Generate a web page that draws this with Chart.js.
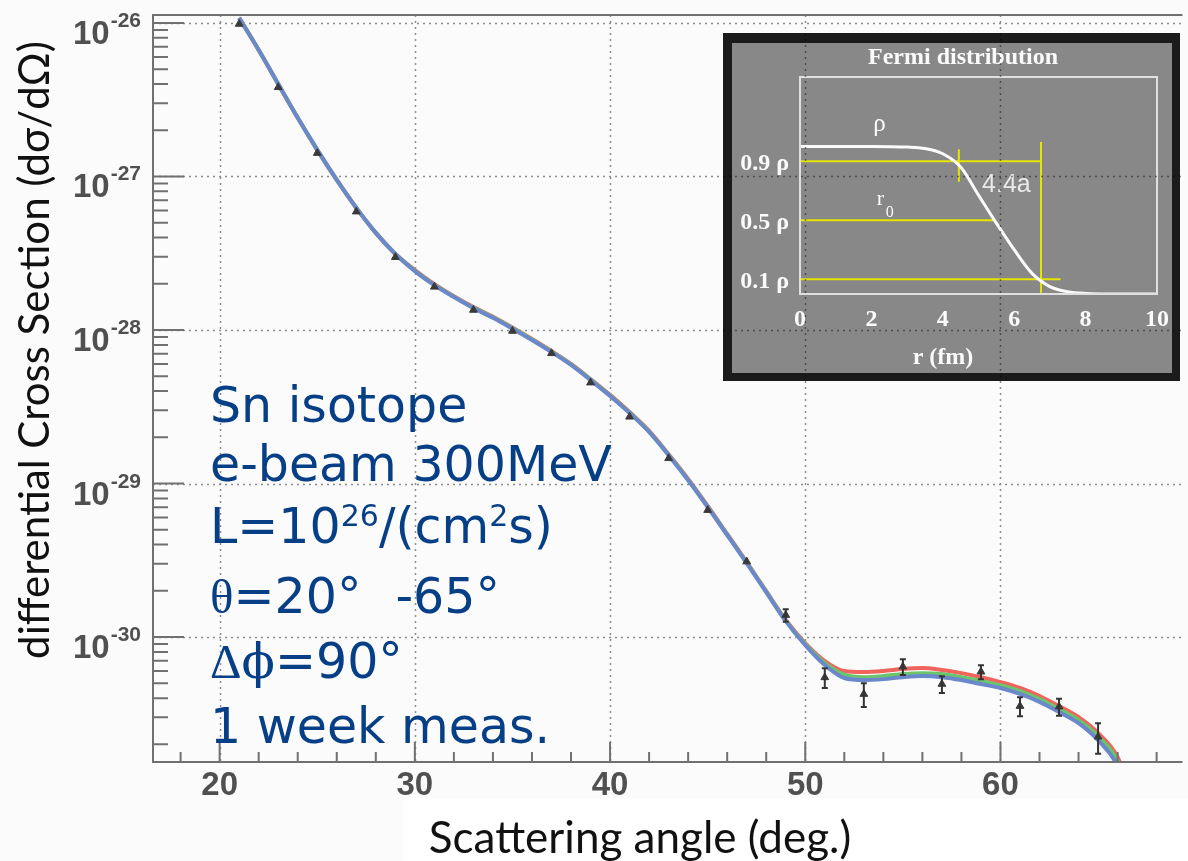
<!DOCTYPE html>
<html>
<head>
<meta charset="utf-8">
<script src="https://cdn.jsdelivr.net/npm/chart.js@4/dist/chart.umd.min.js"></script>
<style>
  html, body { margin: 0; padding: 0; background: #fbfbfb; overflow: hidden; }
  #wrap { position: relative; width: 1188px; height: 861px; }
  #main { position: absolute; left: 0; top: 0; }
  #fermi { position: absolute; left: 723px; top: 33px; mix-blend-mode: multiply; }
</style>
</head>
<body>
<div id="wrap">
  <canvas id="main" width="1188" height="861"></canvas>
  <canvas id="fermi" width="457" height="348"></canvas>
</div>
<script>
// measured cross sections (deg, cm^2/sr) with errors
var angles = [21, 23, 25, 27, 29, 31, 33, 35, 37, 39, 41, 43, 45, 47, 49, 51, 53, 55, 57, 59, 61, 63, 65];
var xsec = [9.85e-27, 3.81e-27, 1.42e-27, 5.9e-28, 2.98e-28, 1.91e-28, 1.35e-28, 9.85e-29, 7.05e-29, 4.54e-29,
            2.72e-29, 1.46e-29, 6.71e-30, 3.10e-30, 1.39e-30, 5.46e-31, 4.25e-31, 6.41e-31, 4.94e-31, 5.94e-31,
            3.55e-31, 3.52e-31, 2.24e-31];
var xsecErr = [0, 0, 0, 0, 0, 0, 0, 0, 0, 0, 0, 0, 0, 0, 1.3e-31, 8e-32, 7.5e-32, 7.5e-32, 6.2e-32, 6.2e-32,
               5e-32, 4.5e-32, 5e-32];

// calculated curves
var curveAngles = [21, 22, 23, 24, 25, 26, 27, 28, 29, 30, 31, 32, 33, 34, 35, 36, 37, 38, 39, 40, 41, 42, 43, 44,
                   45, 46, 47, 48, 49, 50, 51, 52, 53, 54, 55, 56, 57, 58, 59, 60, 61, 62, 63, 64, 65, 66, 67];
var fitBlue = [1.08e-26, 6.67e-27, 4.01e-27, 2.41e-27, 1.49e-27, 9.49e-28, 6.24e-28, 4.29e-28, 3.13e-28, 2.42e-28,
               1.96e-28, 1.64e-28, 1.39e-28, 1.20e-28, 1.02e-28, 8.61e-29, 7.19e-29, 5.92e-29, 4.72e-29, 3.72e-29,
               2.88e-29, 2.17e-29, 1.53e-29, 1.05e-29, 7.03e-30, 4.62e-30, 3.03e-30, 1.96e-30, 1.27e-30, 8.87e-31,
               6.58e-31, 5.41e-31, 5.25e-31, 5.32e-31, 5.48e-31, 5.57e-31, 5.48e-31, 5.25e-31, 4.94e-31, 4.66e-31,
               4.26e-31, 3.78e-31, 3.25e-31, 2.75e-31, 2.13e-31, 1.45e-31, 6.4e-32];
var fitGreen = [1.08e-26, 6.67e-27, 4.01e-27, 2.41e-27, 1.49e-27, 9.49e-28, 6.24e-28, 4.29e-28, 3.13e-28, 2.44e-28,
                1.97e-28, 1.65e-28, 1.40e-28, 1.21e-28, 1.03e-28, 8.68e-29, 7.25e-29, 5.97e-29, 4.76e-29, 3.75e-29,
                2.90e-29, 2.18e-29, 1.54e-29, 1.06e-29, 7.08e-30, 4.65e-30, 3.05e-30, 1.97e-30, 1.28e-30, 9.0e-31,
                6.78e-31, 5.69e-31, 5.48e-31, 5.57e-31, 5.74e-31, 5.82e-31, 5.74e-31, 5.48e-31, 5.17e-31, 4.86e-31,
                4.45e-31, 3.95e-31, 3.40e-31, 2.88e-31, 2.26e-31, 1.56e-31, 6.9e-32];
var fitRed = [1.08e-26, 6.67e-27, 4.01e-27, 2.41e-27, 1.49e-27, 9.49e-28, 6.24e-28, 4.29e-28, 3.13e-28, 2.46e-28,
              1.99e-28, 1.66e-28, 1.41e-28, 1.22e-28, 1.04e-28, 8.74e-29, 7.30e-29, 6.01e-29, 4.79e-29, 3.78e-29,
              2.92e-29, 2.20e-29, 1.55e-29, 1.07e-29, 7.14e-30, 4.69e-30, 3.08e-30, 1.99e-30, 1.29e-30, 9.14e-31,
              6.98e-31, 6.01e-31, 5.92e-31, 6.01e-31, 6.19e-31, 6.28e-31, 6.10e-31, 5.82e-31, 5.48e-31, 5.09e-31,
              4.66e-31, 4.13e-31, 3.55e-31, 3.01e-31, 2.37e-31, 1.65e-31, 7.46e-32];

// axes
var yDecades = [-30, -29, -28, -27, -26];
var xLabels = [20, 30, 40, 50, 60];

// inset: Fermi density profile
var fermiR = [0, 1, 2, 3, 3.5, 4, 4.5, 5, 5.5, 6, 6.5, 7, 7.5, 8, 9, 10];
var fermiRho = [1, 1, 1, 0.995, 0.985, 0.95, 0.86, 0.67, 0.48, 0.30, 0.14, 0.05, 0.015, 0.004, 0, 0];
var levelRho = [0.9, 0.5, 0.1];
var levelEnd = [6.75, 5.45, 7.3];
var crossR = [4.45, 6.75];
var crossLo = [0.76, 0];
var crossHi = [0.98, 1.03];
var insetXTicks = [0, 2, 4, 6, 8, 10];

function pairs(xs, ys) {
  return xs.map(function (x, i) { return { x: x, y: ys[i] }; });
}

function isWhole(v) { return Math.abs(v - Math.round(v)) < 1e-6; }

function drawRuns(ctx, x, y, runs) {
  runs.forEach(function (r) {
    ctx.font = r.font;
    ctx.fillText(r.text, x, y + (r.dy || 0));
    x += ctx.measureText(r.text).width + (r.gap || 0);
  });
  return x;
}

var gridGrey = '#8c8c8c';
var frameGrey = '#707070';

// dotted grid at the labelled values
var dottedGrid = {
  id: 'dottedGrid',
  beforeDatasetsDraw: function (chart) {
    var ctx = chart.ctx, a = chart.chartArea;
    var xs = chart.scales.x, ys = chart.scales.y;
    ctx.save();
    ctx.strokeStyle = gridGrey;
    ctx.lineWidth = 1.5;
    ctx.setLineDash([2, 4]);
    ctx.beginPath();
    xLabels.forEach(function (v) {
      var x = Math.round(xs.getPixelForValue(v)) + 0.5;
      ctx.moveTo(x, a.top); ctx.lineTo(x, a.bottom);
    });
    yDecades.forEach(function (e) {
      var y = Math.round(ys.getPixelForValue(Number('1e' + e))) + 0.5;
      ctx.moveTo(a.left, y); ctx.lineTo(a.right, y);
    });
    ctx.stroke();
    ctx.restore();
  }
};

var errorBars = {
  id: 'errorBars',
  afterDatasetsDraw: function (chart) {
    var ctx = chart.ctx, ys = chart.scales.y;
    var meta = chart.getDatasetMeta(0);
    ctx.save();
    ctx.strokeStyle = '#333';
    ctx.lineWidth = 2;
    xsecErr.forEach(function (e, i) {
      if (!e) return;
      var px = meta.data[i].x;
      var top = ys.getPixelForValue(xsec[i] + e);
      var bot = ys.getPixelForValue(xsec[i] - e);
      ctx.beginPath();
      ctx.moveTo(px, top); ctx.lineTo(px, bot);
      ctx.moveTo(px - 3, top); ctx.lineTo(px + 3, top);
      ctx.moveTo(px - 3, bot); ctx.lineTo(px + 3, bot);
      ctx.stroke();
    });
    ctx.restore();
  }
};

var frameAndText = {
  id: 'frameAndText',
  beforeDraw: function (chart) {
    var ctx = chart.ctx;
    ctx.save();
    ctx.fillStyle = '#ffffff';
    ctx.fillRect(403, 798, 785, 63);
    ctx.restore();
  },
  afterDraw: function (chart) {
    var ctx = chart.ctx, a = chart.chartArea;
    var xs = chart.scales.x, ys = chart.scales.y;
    ctx.save();

    // frame: left, top, bottom
    ctx.strokeStyle = frameGrey;
    ctx.lineWidth = 2;
    ctx.beginPath();
    ctx.moveTo(a.right, a.top); ctx.lineTo(a.left, a.top);
    ctx.lineTo(a.left, a.bottom); ctx.lineTo(a.right, a.bottom);
    ctx.stroke();

    // inward tick marks
    ctx.beginPath();
    ys.ticks.forEach(function (t) {
      var l = Math.log10(t.value);
      var y = ys.getPixelForValue(t.value);
      if (y < a.top || y > a.bottom) return;
      var len = isWhole(l) ? 31 : 15;
      ctx.moveTo(a.left, y); ctx.lineTo(a.left + len, y);
    });
    xs.ticks.forEach(function (t) {
      var x = xs.getPixelForValue(t.value);
      var len = xLabels.indexOf(t.value) >= 0 ? 20 : 10;
      ctx.moveTo(x, a.bottom); ctx.lineTo(x, a.bottom - len);
    });
    ctx.stroke();

    // tick labels
    ctx.fillStyle = '#505050';
    ctx.textBaseline = 'alphabetic';
    yDecades.forEach(function (e) {
      var y = ys.getPixelForValue(Number('1e' + e));
      var sup = String(e);
      ctx.font = 'bold 21px "Liberation Sans"';
      var w2 = ctx.measureText(sup).width;
      ctx.font = 'bold 33px "Liberation Sans"';
      var w1 = ctx.measureText('10').width;
      var x0 = 141 - w2 - w1 - 1;
      ctx.textAlign = 'left';
      ctx.fillText('10', x0, y + 21);
      ctx.font = 'bold 21px "Liberation Sans"';
      ctx.fillText(sup, x0 + w1 + 1, y + 4);
    });
    ctx.font = 'bold 33px "Liberation Sans"';
    ctx.textAlign = 'center';
    xLabels.forEach(function (v) {
      ctx.fillText(String(v), xs.getPixelForValue(v), 795);
    });

    // axis titles
    ctx.fillStyle = '#111';
    ctx.textAlign = 'center';
    ctx.font = '44px Lato, "Open Sans"';
    ctx.fillText('Scattering angle (deg.)', 640, 853);
    ctx.save();
    ctx.translate(49, 350);
    ctx.rotate(-Math.PI / 2);
    ctx.font = '42px Lato, "Open Sans"';
    ctx.fillText('differential Cross Section (d\u03c3/d\u03a9)', 0, 0);
    ctx.restore();

    // run conditions
    var f = '49px "DejaVu Sans"', sup = '30px "DejaVu Sans"', greek = '49px "Liberation Serif"';
    ctx.fillStyle = '#073f86';
    ctx.textAlign = 'left';
    drawRuns(ctx, 210, 422, [{ text: 'Sn isotope', font: f }]);
    drawRuns(ctx, 210, 481, [{ text: 'e-beam 300MeV', font: f }]);
    drawRuns(ctx, 210, 543, [
      { text: 'L=10', font: f }, { text: '26', font: sup, dy: -17 },
      { text: '/(cm', font: f }, { text: '2', font: sup, dy: -17 }, { text: 's)', font: f }
    ]);
    drawRuns(ctx, 210, 613, [
      { text: '\u03b8', font: greek }, { text: '=20\u00b0', font: f, gap: 34 }, { text: '-65\u00b0', font: f }
    ]);
    drawRuns(ctx, 210, 678, [
      { text: '\u0394', font: greek }, { text: '\u03d5', font: '49px "DejaVu Serif"' }, { text: '=90\u00b0', font: f }
    ]);
    drawRuns(ctx, 210, 743, [{ text: '1 week meas.', font: f }]);

    ctx.restore();
  }
};

function curve(label, values, color, order) {
  return {
    label: label,
    data: pairs(curveAngles, values),
    borderColor: color,
    borderWidth: 4,
    pointRadius: 0,
    cubicInterpolationMode: 'monotone',
    order: order
  };
}

new Chart(document.getElementById('main').getContext('2d'), {
  type: 'line',
  data: {
    datasets: [
      {
        label: 'data',
        data: pairs(angles, xsec),
        showLine: false,
        pointStyle: 'triangle',
        pointRadius: 4.5,
        pointBackgroundColor: '#3a3a3a',
        pointBorderColor: '#3a3a3a',
        pointBorderWidth: 1,
        order: 0
      },
      curve('calc 3', fitBlue, '#6b88cb', 1),
      curve('calc 2', fitGreen, '#6cc46c', 2),
      curve('calc 1', fitRed, '#f0645c', 3)
    ]
  },
  options: {
    responsive: false,
    animation: false,
    layout: { padding: { left: 153, top: 15, right: 0, bottom: 99 } },
    plugins: { legend: { display: false }, tooltip: { enabled: false } },
    scales: {
      x: {
        type: 'linear',
        min: 16.586,
        max: 69.325,
        afterBuildTicks: function (s) {
          var t = [];
          for (var v = 18; v <= 68; v += 2) t.push({ value: v });
          s.ticks = t;
        },
        ticks: { display: false },
        grid: { display: false, drawTicks: false },
        border: { display: false }
      },
      y: {
        type: 'logarithmic',
        min: 1.535e-31,
        max: 1.127e-26,
        afterBuildTicks: function (s) {
          var t = [];
          for (var e = -31; e <= -26; e++) {
            for (var m = 1; m <= 9; m++) {
              var v = Number(m + 'e' + e);
              if (v >= s.min && v <= s.max) t.push({ value: v });
            }
          }
          s.ticks = t;
        },
        ticks: { display: false },
        grid: { display: false, drawTicks: false },
        border: { display: false }
      }
    }
  },
  plugins: [dottedGrid, errorBars, frameAndText]
});

// inset
var insetDecor = {
  id: 'insetDecor',
  beforeDraw: function (chart) {
    var ctx = chart.ctx;
    ctx.save();
    ctx.fillStyle = '#1b1b1b';
    ctx.fillRect(0, 0, chart.width, chart.height);
    ctx.fillStyle = '#8a8a8a';
    ctx.fillRect(9, 10, 440, 330);
    ctx.restore();
  },
  afterDraw: function (chart) {
    var ctx = chart.ctx, a = chart.chartArea;
    var xs = chart.scales.x, ys = chart.scales.y;
    ctx.save();
    ctx.strokeStyle = '#e4e4e4';
    ctx.lineWidth = 2;
    ctx.strokeRect(a.left, a.top, a.right - a.left, a.bottom - a.top);

    ctx.fillStyle = '#ffffff';
    ctx.textAlign = 'center';
    ctx.textBaseline = 'middle';
    ctx.font = 'bold 24px "Liberation Serif"';
    ctx.fillText('Fermi distribution', 240, 25);
    ctx.font = 'bold 24px "Liberation Serif"';
    insetXTicks.forEach(function (v) {
      ctx.fillText(String(v), xs.getPixelForValue(v), 287);
    });
    ctx.fillText('r (fm)', 220, 325);
    ctx.textAlign = 'right';
    levelRho.forEach(function (v) {
      ctx.fillText(v.toFixed(1) + ' \u03c1', 66, ys.getPixelForValue(v) + 3);
    });

    ctx.textAlign = 'left';
    ctx.font = '25px "Liberation Serif"';
    ctx.fillText('\u03c1', xs.getPixelForValue(2.05), ys.getPixelForValue(1.15));
    ctx.font = '22px "Liberation Serif"';
    ctx.fillText('r', xs.getPixelForValue(2.15), ys.getPixelForValue(0.64));
    ctx.font = '16px "Liberation Serif"';
    ctx.fillText('0', xs.getPixelForValue(2.4), ys.getPixelForValue(0.55));
    ctx.fillStyle = '#eeeeee';
    ctx.font = '25px "Liberation Sans"';
    ctx.fillText('4.4a', xs.getPixelForValue(5.1), ys.getPixelForValue(0.74));
    ctx.restore();
  }
};

var yellowSets = [];
levelRho.forEach(function (v, i) {
  yellowSets.push({ data: [{ x: 0, y: v }, { x: levelEnd[i], y: v }] });
});
crossR.forEach(function (r, i) {
  yellowSets.push({ data: [{ x: r, y: crossLo[i] }, { x: r, y: crossHi[i] }] });
});
yellowSets.forEach(function (d) {
  d.borderColor = '#e9e900';
  d.borderWidth = 2;
  d.pointRadius = 0;
  d.order = 1;
});

new Chart(document.getElementById('fermi').getContext('2d'), {
  type: 'line',
  data: {
    datasets: [{
      label: 'rho',
      data: pairs(fermiR, fermiRho),
      borderColor: '#ffffff',
      borderWidth: 3,
      pointRadius: 0,
      cubicInterpolationMode: 'monotone',
      order: 0
    }].concat(yellowSets)
  },
  options: {
    responsive: false,
    animation: false,
    layout: { padding: { left: 77, top: 44, right: 23, bottom: 87 } },
    plugins: { legend: { display: false }, tooltip: { enabled: false } },
    scales: {
      x: { type: 'linear', min: 0, max: 10, ticks: { display: false }, grid: { display: false, drawTicks: false }, border: { display: false } },
      y: { type: 'linear', min: 0, max: 1.47, ticks: { display: false }, grid: { display: false, drawTicks: false }, border: { display: false } }
    }
  },
  plugins: [insetDecor]
});
</script>
</body>
</html>
